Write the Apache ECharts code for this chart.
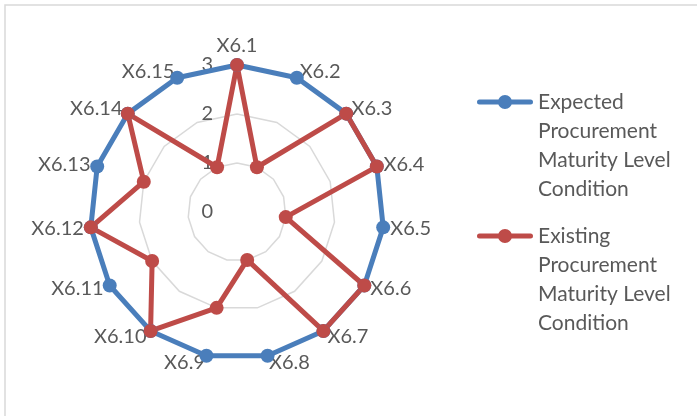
<!DOCTYPE html>
<html>
<head>
<meta charset="utf-8">
<script src="https://cdn.jsdelivr.net/npm/echarts@6/dist/echarts.min.js"></script>
<style>
  html, body { margin: 0; padding: 0; background: #ffffff; }
  #chart { width: 697px; height: 416px; }
</style>
</head>
<body>
<div id="chart"></div>
<script>
// Indicators, listed clockwise from the top
const indicatorNames = ['X6.1', 'X6.2', 'X6.3', 'X6.4', 'X6.5', 'X6.6', 'X6.7', 'X6.8',
                        'X6.9', 'X6.10', 'X6.11', 'X6.12', 'X6.13', 'X6.14', 'X6.15'];
const levelMin = 0;
const levelMax = 3;

const seriesNames = [
  'Expected Procurement Maturity Level Condition',
  'Existing Procurement Maturity Level Condition'
];
const expectedLevels = [3, 3, 3, 3, 3, 3, 3, 3, 3, 3, 3, 3, 3, 3, 3];
const existingLevels = [3, 1, 3, 3, 1, 3, 3, 1, 2, 3, 2, 3, 2, 3, 1];

const seriesColors = ['#4a7ebb', '#be4b48'];
const textColor = '#595959';
const fontFamily = 'Lato, "Open Sans", sans-serif';

// ECharts lays radar axes out counter-clockwise; reorder so they run clockwise.
const order = indicatorNames.map((_, i) => (i === 0 ? 0 : indicatorNames.length - i));
const reorder = arr => order.map(i => arr[i]);

const indicator = reorder(indicatorNames).map((name, k) => ({
  name: name,
  min: levelMin,
  max: levelMax,
  axisLabel: { show: k === 0 }
}));

const legendIcon = 'path://M2.5,4.5 L53.5,4.5 A2.5,2.5 0 1,1 53.5,9.5 L2.5,9.5 A2.5,2.5 0 1,1 2.5,4.5 Z ' +
                   'M21,7 A7,7 0 1,1 35,7 A7,7 0 1,1 21,7 Z';

// Wrap each legend entry onto four lines; three leading blank lines keep the
// first text line level with the icon (legend text is centred on the icon).
function wrapLegend(name) {
  return '\n\n\n' + name.replace(' Procurement', '\nProcurement')
                        .replace(' Maturity', '\nMaturity')
                        .replace(' Condition', '\nCondition');
}

function legendFor(idx, top) {
  return {
    data: [{ name: seriesNames[idx], icon: legendIcon }],
    left: 477,
    top: top,
    padding: 0,
    orient: 'vertical',
    itemWidth: 56,
    itemHeight: 14,
    itemGap: 5,
    selectedMode: false,
    formatter: wrapLegend,
    textStyle: {
      color: textColor,
      fontSize: 21,
      fontFamily: fontFamily,
      lineHeight: 29
    }
  };
}

const chart = echarts.init(document.getElementById('chart'), null, { renderer: 'canvas' });

chart.setOption({
  backgroundColor: '#ffffff',
  animation: false,
  graphic: [{
    type: 'rect',
    shape: { x: 5, y: 5, width: 720, height: 440 },
    style: { fill: 'none', stroke: '#d9d9d9', lineWidth: 1.5 },
    silent: true
  }],
  legend: [legendFor(0, 0.5), legendFor(1, 134.5)],
  radar: {
    center: [237, 212],
    radius: 147,
    startAngle: 90,
    shape: 'polygon',
    splitNumber: 3,
    indicator: indicator,
    axisName: {
      color: textColor,
      fontSize: 20,
      fontFamily: fontFamily
    },
    nameGap: 7,
    axisLine: { show: false },
    axisTick: { show: false },
    axisLabel: {
      show: true,
      color: textColor,
      fontSize: 20,
      fontFamily: fontFamily,
      margin: 24
    },
    splitLine: { lineStyle: { color: '#d9d9d9', width: 1.5 } },
    splitArea: { show: false }
  },
  series: [{
    type: 'radar',
    symbol: 'circle',
    symbolSize: 14,
    data: [
      {
        name: seriesNames[0],
        value: reorder(expectedLevels),
        itemStyle: { color: seriesColors[0] },
        lineStyle: { color: seriesColors[0], width: 5 }
      },
      {
        name: seriesNames[1],
        value: reorder(existingLevels),
        itemStyle: { color: seriesColors[1] },
        lineStyle: { color: seriesColors[1], width: 5 }
      }
    ]
  }]
});
</script>
</body>
</html>
